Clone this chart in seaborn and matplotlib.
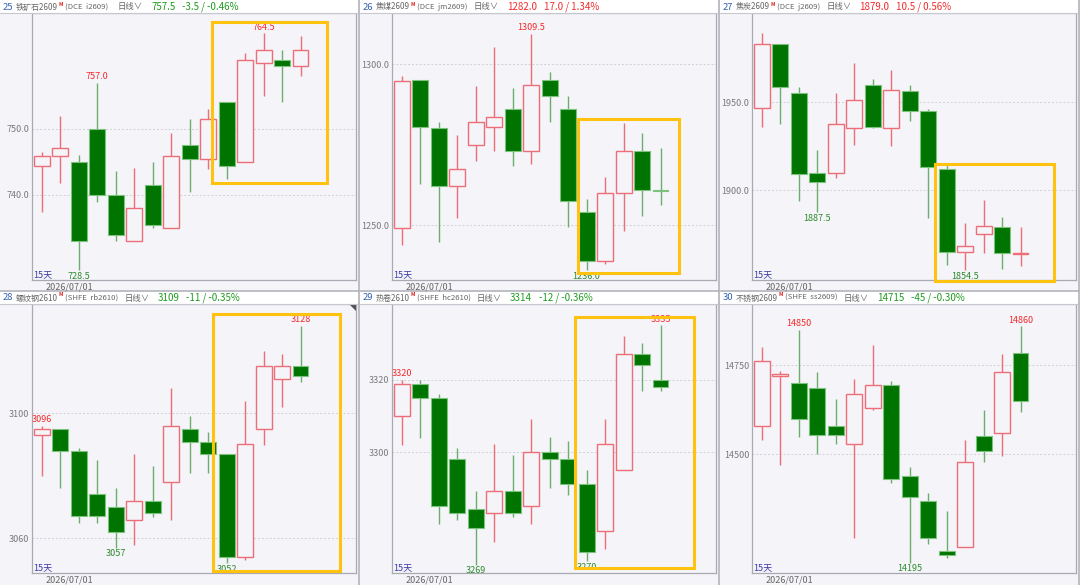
import matplotlib
matplotlib.use('Agg')
import matplotlib.pyplot as plt
from matplotlib.patches import Rectangle, Polygon
from matplotlib.lines import Line2D
import seaborn as sns

sns.set_theme(style='white')
plt.rcParams['font.family'] = ['Noto Sans CJK SC', 'DejaVu Sans']

# ---- data (15 daily candles per contract) ----
ore_open = [744.4, 745.9, 744.9, 750.0, 740.0, 732.9, 741.5, 734.9, 747.5, 745.4, 754.0, 744.9, 760.0, 760.5, 759.5]
ore_high = [746.4, 752.0, 746.0, 757.0, 743.5, 744.0, 744.9, 749.4, 751.5, 753.0, 754.0, 761.5, 764.5, 762.0, 764.1]
ore_low = [737.4, 741.8, 728.5, 738.9, 732.9, 732.9, 734.9, 734.9, 740.4, 743.9, 742.4, 744.9, 755.0, 754.0, 758.0]
ore_close = [745.9, 747.0, 732.9, 740.0, 733.9, 737.9, 735.4, 745.9, 745.4, 751.5, 744.4, 760.5, 762.0, 759.5, 762.0]

jm_open = [1249.0, 1295.1, 1280.1, 1262.1, 1274.9, 1280.5, 1286.1, 1273.0, 1295.1, 1286.1, 1254.0, 1239.0, 1260.0, 1273.0, 1261.0]
jm_high = [1296.2, 1295.1, 1282.0, 1278.1, 1293.2, 1305.2, 1292.6, 1309.5, 1297.6, 1290.2, 1258.1, 1265.0, 1281.6, 1278.6, 1274.1]
jm_low = [1244.0, 1262.9, 1244.9, 1252.4, 1270.1, 1273.0, 1268.5, 1268.9, 1282.0, 1249.5, 1236.0, 1238.1, 1248.3, 1253.0, 1256.3]
jm_close = [1294.7, 1280.5, 1262.1, 1267.6, 1282.0, 1283.5, 1273.0, 1293.5, 1290.1, 1257.5, 1239.0, 1260.0, 1273.0, 1261.0, 1260.5]

j_open = [1946.6, 1983.0, 1955.3, 1910.0, 1910.0, 1935.2, 1960.0, 1935.2, 1956.3, 1945.3, 1911.9, 1865.2, 1875.0, 1879.0, 1863.8]
j_high = [1989.2, 1983.0, 1958.5, 1922.9, 1955.3, 1972.3, 1963.3, 1968.6, 1960.0, 1946.0, 1914.8, 1881.4, 1894.5, 1884.7, 1879.0]
j_low = [1936.0, 1937.9, 1893.9, 1887.5, 1907.0, 1926.0, 1935.2, 1925.0, 1939.6, 1884.1, 1857.6, 1854.5, 1864.6, 1855.1, 1857.0]
j_close = [1983.0, 1958.5, 1909.1, 1904.9, 1937.9, 1951.1, 1936.0, 1956.8, 1945.3, 1913.3, 1865.2, 1868.2, 1879.5, 1864.6, 1864.4]

rb_open = [3093.0, 3094.9, 3087.9, 3074.1, 3069.9, 3066.0, 3071.9, 3077.9, 3094.9, 3090.9, 3086.9, 3053.9, 3095.0, 3111.0, 3115.0]
rb_high = [3096.0, 3094.9, 3089.0, 3085.1, 3076.0, 3087.0, 3083.0, 3108.0, 3099.0, 3093.9, 3086.9, 3104.1, 3119.9, 3119.0, 3128.0]
rb_low = [3079.9, 3076.0, 3065.0, 3065.0, 3057.0, 3058.0, 3066.9, 3066.0, 3081.0, 3081.0, 3052.0, 3053.0, 3090.0, 3101.9, 3110.0]
rb_close = [3094.9, 3087.9, 3067.0, 3067.0, 3061.9, 3071.9, 3068.0, 3096.1, 3090.9, 3087.0, 3053.9, 3090.1, 3115.0, 3115.0, 3111.9]

hc_open = [3310.0, 3318.9, 3315.0, 3298.1, 3284.3, 3283.4, 3289.3, 3285.3, 3300.0, 3298.1, 3291.3, 3278.3, 3295.0, 3327.0, 3320.0]
hc_high = [3320.0, 3320.0, 3316.0, 3301.2, 3289.3, 3302.2, 3299.3, 3309.2, 3304.2, 3303.1, 3295.1, 3309.2, 3331.9, 3330.0, 3335.0]
hc_low = [3302.0, 3304.0, 3280.4, 3281.3, 3269.0, 3275.4, 3282.3, 3280.4, 3290.2, 3288.3, 3270.0, 3273.4, 3295.0, 3317.0, 3317.0]
hc_close = [3318.9, 3315.0, 3285.3, 3283.4, 3279.3, 3289.3, 3283.4, 3300.0, 3298.1, 3291.3, 3272.5, 3302.2, 3327.0, 3323.9, 3317.9]

ss_open = [14580.5, 14719.1, 14699.4, 14685.4, 14580.5, 14530.0, 14629.2, 14694.8, 14439.1, 14368.9, 14229.4, 14238.8, 14550.6, 14559.0, 14785.6]
ss_high = [14801.5, 14735.0, 14850.0, 14730.3, 14655.4, 14710.7, 14807.1, 14706.0, 14464.4, 14390.4, 14339.9, 14540.3, 14625.5, 14781.8, 14860.0]
ss_low = [14539.3, 14470.0, 14549.6, 14500.0, 14530.0, 14264.0, 14624.5, 14420.4, 14195.0, 14249.1, 14208.8, 14238.8, 14479.4, 14494.4, 14619.9]
ss_close = [14761.2, 14724.7, 14600.2, 14554.3, 14554.3, 14669.5, 14694.8, 14429.8, 14379.2, 14264.0, 14218.2, 14479.4, 14509.4, 14730.3, 14650.7]

ore_ticks, ore_ticklabels = [740, 750], ['740.0', '750.0']
jm_ticks, jm_ticklabels = [1250, 1300], ['1250.0', '1300.0']
j_ticks, j_ticklabels = [1900, 1950], ['1900.0', '1950.0']
rb_ticks, rb_ticklabels = [3060, 3100], ['3060', '3100']
hc_ticks, hc_ticklabels = [3300, 3320], ['3300', '3320']
ss_ticks, ss_ticklabels = [14500, 14750], ['14500', '14750']

# labelled extremes: (candle index, text)
ore_hi_marks, ore_lo_marks = [(3, '757.0'), (12, '764.5')], [(2, '728.5')]
jm_hi_marks, jm_lo_marks = [(7, '1309.5')], [(10, '1236.0')]
j_hi_marks, j_lo_marks = [], [(3, '1887.5'), (11, '1854.5')]
rb_hi_marks, rb_lo_marks = [(0, '3096'), (14, '3128')], [(4, '3057'), (10, '3052')]
hc_hi_marks, hc_lo_marks = [(0, '3320'), (14, '3335')], [(4, '3269'), (10, '3270')]
ss_hi_marks, ss_lo_marks = [(2, '14850'), (14, '14860')], [(8, '14195')]

# header texts
header_num = ['25', '26', '27', '28', '29', '30']
header_name = ['铁矿石2609', '焦煤2609', '焦炭2609', '螺纹钢2610', '热卷2610', '不锈钢2609']
header_code = ['(DCE  i2609)', '(DCE  jm2609)', '(DCE  j2609)', '(SHFE  rb2610)', '(SHFE  hc2610)', '(SHFE  ss2609)']
header_last = ['757.5', '1282.0', '1879.0', '3109', '3314', '14715']
header_chg = ['-3.5 / -0.46%', '17.0 / 1.34%', '10.5 / 0.56%', '-11 / -0.35%', '-12 / -0.36%', '-45 / -0.30%']
date_label = '2026/07/01'
days_label = '15天'

# ---- styling ----
W, H = 1080, 585
BG = '#F4F4F9'
RED = '#EE6E78'
RED_TXT = '#F52A2A'
GREEN_BODY = '#007400'
GREEN_EDGE = '#7CC27C'
GREEN_WICK = '#6DAE6D'
GREEN_TXT = '#2E8B2E'
BOX = '#FFC20E'
SPINE = '#A9A9B2'

fig = plt.figure(figsize=(W / 100, H / 100), dpi=100, facecolor=BG)
renderer = fig.canvas.get_renderer()


def fx(x):
    return x / W


def fy(y):
    return 1 - y / H


def text_at(x, y, s, **kw):
    """Place a figure text at pixel (x, y) and return its right edge in pixels."""
    t = fig.text(fx(x), fy(y), s, ha='left', va='center', **kw)
    bb = t.get_window_extent(renderer=renderer)
    return bb.x1


def draw_candles(ax, o, h, l, c):
    xs = range(len(o))
    for i in xs:
        up = c[i] >= o[i]
        top, bot = max(o[i], c[i]), min(o[i], c[i])
        if up:
            ax.vlines(i, top, h[i], color=RED, lw=1.0, zorder=2)
            ax.vlines(i, l[i], bot, color=RED, lw=1.0, zorder=2)
        else:
            ax.vlines(i, l[i], h[i], color=GREEN_WICK, lw=1.0, zorder=2)
    ups = [i for i in xs if c[i] >= o[i]]
    dns = [i for i in xs if c[i] < o[i]]
    ax.bar(ups, [c[i] - o[i] for i in ups], bottom=[o[i] for i in ups], width=0.86,
           facecolor=BG, edgecolor=RED, linewidth=1.0, zorder=3)
    ax.bar(dns, [o[i] - c[i] for i in dns], bottom=[c[i] for i in dns], width=0.86,
           facecolor=GREEN_BODY, edgecolor=GREEN_EDGE, linewidth=0.8, zorder=3)


panels = [
    dict(px=0, row=0, o=ore_open, h=ore_high, l=ore_low, c=ore_close, ylim=(727.0, 767.6),
         ticks=ore_ticks, tl=ore_ticklabels, hi=ore_hi_marks, lo=ore_lo_marks,
         box=(9.2, 741.7, 15.43, 766.3), hx=(118, 145, 174), up=False),
    dict(px=360, row=0, o=jm_open, h=jm_high, l=jm_low, c=jm_close, ylim=(1233.0, 1315.9),
         ticks=jm_ticks, tl=jm_ticklabels, hi=jm_hi_marks, lo=jm_lo_marks,
         box=(9.56, 1235.3, 14.98, 1282.9), hx=(107, 142, 175), up=True),
    dict(px=720, row=0, o=j_open, h=j_high, l=j_low, c=j_close, ylim=(1849.05, 2000.8),
         ticks=j_ticks, tl=j_ticklabels, hi=j_hi_marks, lo=j_lo_marks,
         box=(9.38, 1848.5, 15.79, 1915.0), hx=(103, 135, 172), up=True),
    dict(px=0, row=1, o=rb_open, h=rb_high, l=rb_low, c=rb_close, ylim=(3048.9, 3135.0),
         ticks=rb_ticks, tl=rb_ticklabels, hi=rb_hi_marks, lo=rb_lo_marks,
         box=(9.24, 3049.5, 16.11, 3131.8), hx=(118, 153, 180), up=False),
    dict(px=360, row=1, o=hc_open, h=hc_high, l=hc_low, c=hc_close, ylim=(3266.8, 3340.8),
         ticks=hc_ticks, tl=hc_ticklabels, hi=hc_hi_marks, lo=hc_lo_marks,
         box=(9.38, 3268.2, 15.83, 3337.2), hx=(110, 145, 172), up=False),
    dict(px=720, row=1, o=ss_open, h=ss_high, l=ss_low, c=ss_close, ylim=(14166.7, 14922.3),
         ticks=ss_ticks, tl=ss_ticklabels, hi=ss_hi_marks, lo=ss_lo_marks,
         box=None, hx=(118, 153, 184), up=False),
]

rows = {0: (13, 280, 0), 1: (304, 573, 291)}

for k, p in enumerate(panels):
    y_top, y_bot, y_head = rows[p['row']]
    px = p['px']

    # white header strip
    fig.patches.append(Rectangle((fx(px), fy(y_head + 13)), fx(358), 13 / H, transform=fig.transFigure,
                                 facecolor='white', edgecolor='none', zorder=0))

    ax = fig.add_axes([fx(px + 32), fy(y_bot), fx(324), (y_bot - y_top) / H])
    ax.set_facecolor(BG)
    draw_candles(ax, p['o'], p['h'], p['l'], p['c'])
    ax.set_xlim(-0.53, 17.0)
    ax.set_ylim(*p['ylim'])
    ax.set_xticks([])
    ax.set_yticks(p['ticks'])
    ax.set_yticklabels(p['tl'])
    ax.tick_params(axis='y', length=0, pad=2, labelsize=6.5, labelcolor='#7A7A7A')
    for t in p['ticks']:
        ax.axhline(t, color='#CFCFD6', lw=0.7, ls=(0, (2, 2)), zorder=1)
    for s in ax.spines.values():
        s.set_color(SPINE)
        s.set_linewidth(0.9)

    for i, txt in p['hi']:
        ax.annotate(txt, (i, p['h'][i]), xytext=(0, 1), textcoords='offset points',
                    ha='center', va='bottom', fontsize=6.5, color=RED_TXT, annotation_clip=False)
    for i, txt in p['lo']:
        ax.annotate(txt, (i, p['l'][i]), xytext=(0, -1), textcoords='offset points',
                    ha='center', va='top', fontsize=6.5, color=GREEN_TXT, annotation_clip=False)

    if p['box'] is not None:
        x0, y0, x1, y1 = p['box']
        ax.add_patch(Rectangle((x0, y0), x1 - x0, y1 - y0, fill=False, edgecolor=BOX,
                               linewidth=2.2, clip_on=False, zorder=6))

    ax.text(0.004, 0.004, days_label, transform=ax.transAxes, ha='left', va='bottom',
            fontsize=6.5, color='#3A3AA8')
    fig.text(fx(px + 69), fy(y_bot + 7), date_label, ha='center', va='center',
             fontsize=6.5, color='#666666')

    # header pieces, chained left to right
    x_daily, x_last, x_chg = p['hx']
    yc = y_head + 7
    chg_color = RED_TXT if p['up'] else '#1E9A1E'
    text_at(px + 3, yc, header_num[k], fontsize=6.8, color='#3560B0')
    end = text_at(px + 16, yc, header_name[k], fontsize=5.8, color='#666666')
    end = text_at(end + 0.5, y_head + 4, 'M', fontsize=3.8, color='#E02020', fontweight='bold')
    end = text_at(end + 2, yc, header_code[k], fontsize=5.6, color='#666666')
    end = text_at(max(px + x_daily, end + 6), yc, '日线∨', fontsize=6.0, color='#666666')
    end = text_at(max(px + x_last, end + 8), yc, header_last[k], fontsize=7, color=chg_color)
    text_at(max(px + x_chg, end + 7), yc, header_chg[k], fontsize=7, color=chg_color)

    # header bottom rule
    fig.add_artist(Line2D([fx(px), fx(px + 358)], [fy(y_head + 13)] * 2, color='#C8C8D0', lw=0.8))

# panel separators
for xv in (358.5, 718.5, 1078.5):
    fig.add_artist(Line2D([fx(xv)] * 2, [0, 1], color='#B4B4BC', lw=1.2))
fig.add_artist(Line2D([0, 1], [fy(290.5)] * 2, color='#B4B4BC', lw=1.2))

# small corner marker on the active panel
fig.add_artist(Polygon([(fx(350), fy(305)), (fx(356), fy(305)), (fx(356), fy(311))], closed=True,
                       transform=fig.transFigure, facecolor='#555555', edgecolor='none'))

fig.savefig('out.png', dpi=100, facecolor=BG)
